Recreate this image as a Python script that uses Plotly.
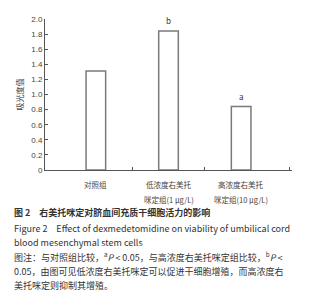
import plotly.graph_objects as go

cat_line1 = ["对照组", "低浓度右美托", "高浓度右美托"]
cat_line2 = ["", "咪定组(1 μg/L)", "咪定组(10 μg/L)"]
values = [1.31, 1.84, 0.84]
sig_marks = ["", "b", "a"]
y_ticks = [0, 0.2, 0.4, 0.6, 0.8, 1.0, 1.2, 1.4, 1.6, 1.8, 2.0]
y_tick_labels = ["0", "0.2", "0.4", "0.6", "0.8", "1.0", "1.2", "1.4", "1.6", "1.8", "2.0"]
y_title = "吸光度值"
caption_lines = [
    ("<b>图 2　右美托咪定对脐血间充质干细胞活力的影响</b>", 213),
    ("Figure 2　Effect of dexmedetomidine on viability of umbilical cord", 228),
    ("blood mesenchymal stem cells", 242),
    ("图注：与对照组比较，<sup>a</sup><i>P</i> &lt; 0.05，与高浓度右美托咪定组比较，<sup>b</sup><i>P</i> &lt;", 257),
    ("0.05，由图可见低浓度右美托咪定可以促进干细胞增殖，而高浓度右", 271),
    ("美托咪定则抑制其增殖。", 285),
]

FONT = "Noto Sans CJK SC, Liberation Sans, sans-serif"
xs = list(range(len(values)))

fig = go.Figure()
fig.add_trace(go.Bar(
    x=xs, y=values, width=0.27,
    marker=dict(color="white", line=dict(color="#7a7a7a", width=1.5)),
    cliponaxis=False,
))

PLOT_TOP, PLOT_BOTTOM = 19, 170
H = PLOT_BOTTOM - PLOT_TOP

annotations = []
for i, (v, m) in enumerate(zip(values, sig_marks)):
    if m:
        annotations.append(dict(
            x=i, y=v, xref="x", yref="y", text=m, showarrow=False,
            xanchor="center", yanchor="bottom", yshift=3,
            font=dict(size=8, color="#333", family=FONT),
        ))
for i, (l1, l2) in enumerate(zip(cat_line1, cat_line2)):
    for txt, shift in ((l1, -7), (l2, -22)):
        if txt:
            annotations.append(dict(
                x=i, y=0, xref="x", yref="y", text=txt, showarrow=False,
                xanchor="center", yanchor="top", yshift=shift,
                font=dict(size=7.5, color="#444", family=FONT),
            ))
for txt, py in caption_lines:
    annotations.append(dict(
        x=-45/247, y=(PLOT_BOTTOM - py) / H, xref="paper", yref="paper",
        text=txt, showarrow=False, xanchor="left", yanchor="middle",
        xshift=12, font=dict(size=9, color="#333", family=FONT), align="left",
    ))

fig.update_layout(
    width=311, height=300,
    margin=dict(l=45, r=19, t=PLOT_TOP, b=300 - PLOT_BOTTOM),
    paper_bgcolor="white", plot_bgcolor="white",
    showlegend=False,
    annotations=annotations,
    xaxis=dict(
        range=[-0.7, 2.7], tickvals=[0.5, 1.5, 2.66], showticklabels=False,
        ticks="inside", ticklen=3, tickcolor="#555",
        showline=True, linecolor="#555", linewidth=1,
        showgrid=False, zeroline=False, fixedrange=True,
    ),
    yaxis=dict(
        range=[0, 2.0], tickvals=y_ticks, ticktext=y_tick_labels,
        ticks="inside", ticklen=3, tickcolor="#555",
        showline=True, linecolor="#555", linewidth=1,
        showgrid=False, zeroline=False,
        tickfont=dict(size=8, color="#444", family="Liberation Sans, sans-serif"),
        title=dict(text=y_title, font=dict(size=8, color="#444", family=FONT), standoff=6),
    ),
    font=dict(family=FONT),
)

fig.write_html("out.html")
